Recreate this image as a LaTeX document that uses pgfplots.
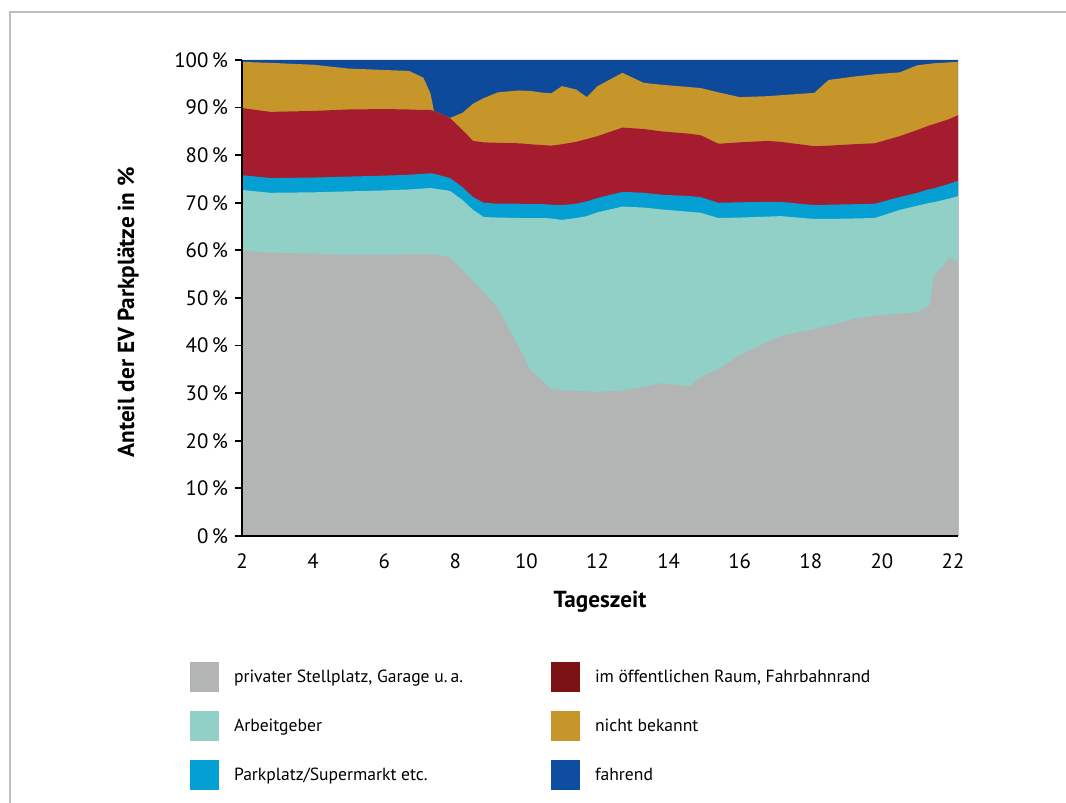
\documentclass[border=0pt]{standalone}
\usepackage{pgfplots}
\pgfplotsset{compat=1.18}
\usepackage{pgfplotstable}
\usepackage{fontspec}
\setmainfont{PT Sans}
\definecolor{cgray}{HTML}{B3B5B5}
\definecolor{cteal}{HTML}{90D0C6}
\definecolor{ccyan}{HTML}{05A0D3}
\definecolor{cred}{HTML}{A51C2F}
\definecolor{cgold}{HTML}{C7962B}
\definecolor{cblue}{HTML}{0D4A9C}
\definecolor{lred}{HTML}{7D1216}
\definecolor{lblue}{HTML}{0F4DA0}
\definecolor{framegray}{HTML}{BEBEBE}
\pgfplotstableread{
x b1 b2 b3 b4 b5 b6
2.00 60.0 72.7 75.8 89.9 99.6 100
2.80 59.5 72.1 75.2 89.1 99.4 100
4.00 59.3 72.2 75.3 89.3 99.0 100
5.00 59.1 72.4 75.5 89.6 98.2 100
6.00 59.1 72.6 75.7 89.7 97.9 100
6.70 59.2 72.8 75.9 89.6 97.7 100
7.10 59.2 73.0 76.1 89.5 96.3 100
7.30 59.2 73.1 76.2 89.5 93.0 100
7.40 59.2 73.0 76.1 89.3 89.3 100
7.85 58.5 72.5 75.2 87.8 87.8 100
8.20 55.9 70.6 73.3 85.3 88.9 100
8.50 53.5 68.5 71.2 83.0 90.8 100
8.80 51.2 67.0 70.0 82.7 92.0 100
9.20 47.8 66.9 69.8 82.6 93.2 100
9.80 39.5 66.8 69.8 82.5 93.6 100
10.10 35.0 66.8 69.7 82.3 93.5 100
10.50 32.2 66.8 69.7 82.1 93.1 100
10.70 30.8 66.7 69.6 82.0 93.0 100
11.00 30.6 66.4 69.5 82.3 94.5 100
11.40 30.5 66.8 69.8 82.8 93.8 100
11.70 30.4 67.2 70.3 83.4 92.2 100
12.00 30.3 68.0 71.0 84.0 94.5 100
12.70 30.5 69.2 72.3 85.8 97.3 100
13.30 31.3 69.0 72.1 85.5 95.2 100
13.80 32.1 68.6 71.7 85.0 94.8 100
14.60 31.5 68.1 71.4 84.5 94.3 100
14.90 33.4 67.9 71.2 84.2 94.1 100
15.40 35.0 66.8 70.0 82.4 93.2 100
16.00 38.0 66.9 70.1 82.7 92.2 100
16.80 40.8 67.1 70.2 83.0 92.4 100
17.15 42.0 67.2 70.2 82.8 92.6 100
18.10 43.5 66.6 69.5 81.9 93.1 100
18.50 44.2 66.6 69.6 82.0 95.8 100
19.20 45.6 66.7 69.7 82.3 96.5 100
19.80 46.3 66.8 69.8 82.5 97.0 100
20.50 46.7 68.5 71.2 84.0 97.4 100
21.00 47.0 69.4 72.1 85.3 98.9 100
21.35 48.5 70.0 72.9 86.3 99.2 100
21.45 54.4 70.1 73.0 86.5 99.3 100
21.90 58.4 70.9 74.0 87.6 99.5 100
22.14 57.6 71.4 74.6 88.4 99.6 100
}\bounds
\begin{document}
\begin{tikzpicture}
\useasboundingbox (0,0) rectangle (533pt,401.5pt);
\draw[color=framegray, line width=0.8pt] (5pt,0) -- (5pt,395.5pt) -- (533pt,395.5pt);
\begin{axis}[
  at={(121pt,133.5pt)}, anchor=south west,
  scale only axis, width=358pt, height=238pt,
  xmin=2, xmax=22.14, ymin=0, ymax=100,
  axis x line*=bottom, axis y line*=left,
  axis line style={line width=1.25pt, -, black},
  xtick={2,4,...,22}, ytick={0,10,...,100},
  x tick style={draw=none},
  y tick style={line width=0.9pt, black},
  tick align=outside, major tick length=3.5pt,
  yticklabel={\pgfmathprintnumber{\tick}\,\%},
  /pgf/number format/assume math mode=true,
  tick label style={font=\fontsize{10.4}{12}\selectfont},
  xticklabel style={yshift=-2pt},
  xlabel={\textbf{Tageszeit}},
  ylabel={\textbf{Anteil der EV Parkplätze in \%}},
  label style={font=\fontsize{11.6}{13}\selectfont},
  xlabel style={at={(axis description cs:0.5,-0.139)}, anchor=center},
  ylabel style={at={(axis description cs:-0.159,0.47)}, anchor=center, rotate=0},
  axis on top,
  legend columns=2,
  legend cell align=left,
  legend image code/.code={\fill[#1] (0pt,-7pt) rectangle (14.5pt,8pt);},
  legend style={at={(-0.0726,-0.2647)}, anchor=north west, draw=none, fill=none,
    inner sep=0pt, outer sep=0pt, row sep=9.5pt,
    font=\fontsize{8.8}{10}\selectfont, nodes={inner sep=0pt},
    /tikz/every odd column/.style={column sep=7.5pt}},
]
\addlegendimage{fill=cgray, draw=none}
\addlegendentry{\makebox[158.5pt][l]{privater Stellplatz, Garage u.\,a.}}
\addlegendimage{fill=lred, draw=none}
\addlegendentry{im öffentlichen Raum, Fahrbahnrand}
\addlegendimage{fill=cteal, draw=none}
\addlegendentry{\makebox[158.5pt][l]{Arbeitgeber}}
\addlegendimage{fill=cgold, draw=none}
\addlegendentry{nicht bekannt}
\addlegendimage{fill=ccyan, draw=none}
\addlegendentry{\makebox[158.5pt][l]{Parkplatz/Supermarkt etc.}}
\addlegendimage{fill=lblue, draw=none}
\addlegendentry{fahrend}
\addplot[fill=cblue, draw=none, forget plot] table[x=x, y=b6]{\bounds} \closedcycle;
\addplot[fill=cgold, draw=none, forget plot] table[x=x, y=b5]{\bounds} \closedcycle;
\addplot[fill=cred, draw=none, forget plot] table[x=x, y=b4]{\bounds} \closedcycle;
\addplot[fill=ccyan, draw=none, forget plot] table[x=x, y=b3]{\bounds} \closedcycle;
\addplot[fill=cteal, draw=none, forget plot] table[x=x, y=b2]{\bounds} \closedcycle;
\addplot[fill=cgray, draw=none, forget plot] table[x=x, y=b1]{\bounds} \closedcycle;
\end{axis}
\end{tikzpicture}
\end{document}
